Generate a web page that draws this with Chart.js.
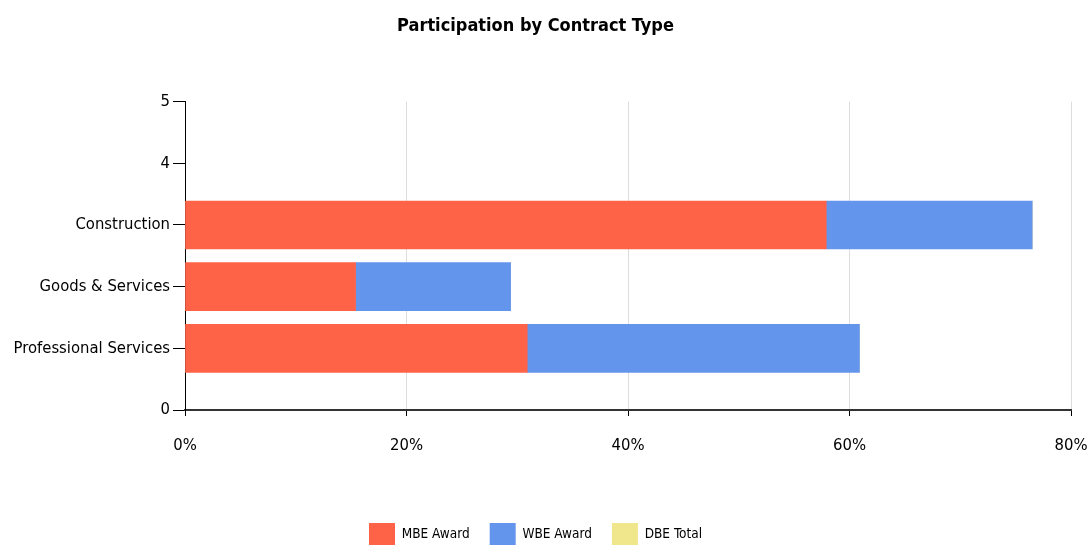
<!DOCTYPE html>
<html>
<head>
<meta charset="utf-8">
<script src="https://cdn.jsdelivr.net/npm/chart.js@4.4.1/dist/chart.umd.min.js"></script>
<style>
  html, body { margin: 0; padding: 0; background: #fff; }
  .myChart { width: 1089px; height: 548px; }
</style>
</head>
<body>
<div class="myChart">
  <canvas id="bar--chart" width="1089" height="548"></canvas>
</div>
<script>
// contract types, placed on the numeric y axis at 1, 2, 3
const categories = ['Professional Services', 'Goods & Services', 'Construction'];
const categoryPos = [1, 2, 3];

// percent of awards
const mbeAward = [30.9, 15.4, 57.9];
const wbeAward = [30.0, 14.0, 18.6];
const dbeTotal = [0, 0, 0];

const xTicks = [0, 20, 40, 60, 80];

const FONT = "'DejaVu Sans Condensed', 'Liberation Sans Narrow', 'DejaVu Sans', sans-serif";

const toPoints = (vals) => vals.map((v, i) => ({ x: v, y: categoryPos[i] }));

const ctx = document.getElementById('bar--chart').getContext('2d');
new Chart(ctx, {
  type: 'bar',
  data: {
    datasets: [
      { label: 'MBE Award', data: toPoints(mbeAward), backgroundColor: '#FF6347' },
      { label: 'WBE Award', data: toPoints(wbeAward), backgroundColor: '#6495ED' },
      { label: 'DBE Total', data: toPoints(dbeTotal), backgroundColor: '#F0E68C' }
    ]
  },
  options: {
    indexAxis: 'y',
    responsive: false,
    animation: false,
    barThickness: 48,
    layout: { padding: { left: 0, right: 18, top: 0, bottom: -7 } },
    scales: {
      x: {
        type: 'linear',
        stacked: true,
        min: 0,
        max: 80,
        afterBuildTicks: (s) => { s.ticks = xTicks.map(v => ({ value: v })); },
        afterFit: (s) => { s.height = 93; s.paddingRight = 0; s.paddingLeft = 0; },
        grid: { color: '#dddddd', tickColor: '#000', tickLength: 6 },
        border: { color: '#333', width: 2 },
        ticks: {
          padding: 20,
          color: '#000',
          font: { family: FONT, size: 16.5 },
          callback: (v) => v + '%'
        }
      },
      y: {
        type: 'linear',
        stacked: true,
        offset: false,
        min: 0,
        max: 5,
        afterFit: (s) => { s.width = 185; },
        grid: { drawOnChartArea: false, offset: false, tickColor: '#000', tickLength: 12 },
        border: { color: '#000', width: 1 },
        ticks: {
          stepSize: 1,
          padding: 3,
          color: '#000',
          font: { family: FONT, size: 16.5 },
          callback: (v) => {
            const i = categoryPos.indexOf(v);
            return i >= 0 ? categories[i] : v;
          }
        }
      }
    },
    plugins: {
      title: {
        display: true,
        text: 'Participation by Contract Type',
        color: '#000',
        font: { family: FONT, size: 18, weight: 'bold' },
        padding: { top: 16, bottom: 64 }
      },
      legend: {
        position: 'bottom',
        labels: {
          color: '#000',
          font: { family: FONT, size: 13.5 },
          boxWidth: 26,
          boxHeight: 22,
          padding: 20
        }
      },
      tooltip: { enabled: false }
    }
  }
});
</script>
</body>
</html>
